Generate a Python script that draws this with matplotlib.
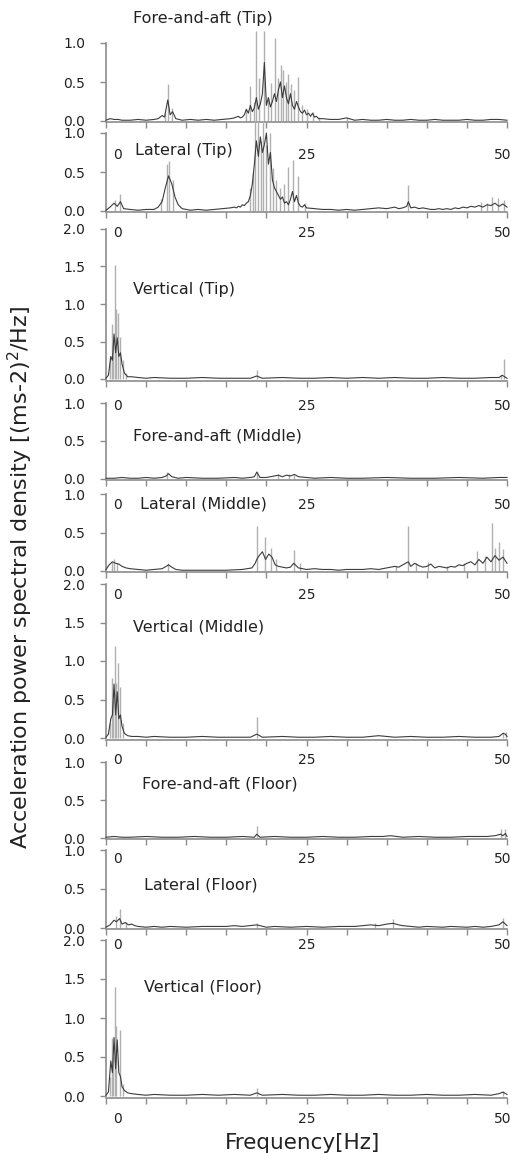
import matplotlib
matplotlib.use("Agg")
import matplotlib.pyplot as plt
from matplotlib.transforms import offset_copy

plt.rcParams['font.family'] = ['DejaVu Sans']

# panel names
titles = ["Fore-and-aft (Tip)", "Lateral (Tip)", "Vertical (Tip)",
          "Fore-and-aft (Middle)", "Lateral (Middle)", "Vertical (Middle)",
          "Fore-and-aft (Floor)", "Lateral (Floor)", "Vertical (Floor)"]
ymaxs = [1.0, 1.0, 2.0, 1.0, 1.0, 2.0, 1.0, 1.0, 2.0]

# --- dark trace (freq Hz, PSD) and light grey spikes ---
tip_fa = [(0, 0.01), (0.5, 0.03), (1, 0.02), (1.5, 0.02), (2, 0.01), (3, 0.01), (4, 0.02), (5, 0.01), (6, 0.02),
          (6.5, 0.03), (7, 0.07), (7.3, 0.05), (7.7, 0.27), (8.0, 0.08), (8.3, 0.12), (8.7, 0.03), (9.5, 0.01),
          (10.5, 0.02), (11.5, 0.01), (12.5, 0.02), (13.5, 0.01), (14.5, 0.02), (15.5, 0.03),
          (16.0, 0.04), (16.25, 0.05), (16.5, 0.06), (16.75, 0.04), (17.0, 0.05), (17.25, 0.08), (17.5, 0.15),
          (17.75, 0.1), (18.0, 0.2), (18.25, 0.12), (18.5, 0.17), (18.75, 0.3), (19.0, 0.15), (19.25, 0.22),
          (19.5, 0.35), (19.75, 0.75), (20.0, 0.2), (20.25, 0.3), (20.5, 0.18), (20.75, 0.25), (21.0, 0.35),
          (21.25, 0.25), (21.5, 0.4), (21.75, 0.5), (22.0, 0.3), (22.25, 0.45), (22.5, 0.3), (22.75, 0.22),
          (23.0, 0.35), (23.25, 0.2), (23.5, 0.15), (23.75, 0.25), (24.0, 0.18), (24.25, 0.12), (24.5, 0.1),
          (24.75, 0.14), (25.0, 0.08), (25.25, 0.1), (25.5, 0.06), (25.75, 0.1), (26.0, 0.05), (26.25, 0.06),
          (26.5, 0.03), (27, 0.03), (28, 0.02), (29, 0.02), (30, 0.04), (31, 0.01), (32, 0.02), (33, 0.01),
          (34, 0.01), (35, 0.02), (36, 0.01), (37, 0.01), (38, 0.02), (39, 0.01), (40, 0.01), (41, 0.02),
          (42, 0.01), (43, 0.01), (44, 0.01), (45, 0.02), (46, 0.01), (47, 0.01), (48, 0.02), (49, 0.02),
          (50, 0.01)]
tip_fa_spk = [(7.3, 0.1), (7.7, 0.47), (8.2, 0.17), (17.4, 0.15), (17.9, 0.45), (18.4, 0.25), (18.7, 1.15),
              (19.1, 0.55), (19.7, 1.15), (20.2, 0.3), (20.6, 0.49), (21.1, 1.06), (21.5, 0.55), (21.8, 0.72),
              (22.1, 0.65), (22.4, 0.5), (22.7, 0.6), (23.1, 0.47), (23.5, 0.4), (23.9, 0.56), (24.4, 0.2),
              (25.0, 0.15), (25.8, 0.12), (26.6, 0.05), (30.0, 0.04)]

tip_lat = [(0, 0.01), (0.5, 0.05), (1.0, 0.1), (1.4, 0.06), (1.8, 0.12), (2.2, 0.03), (3, 0.02), (4, 0.01),
           (5, 0.02), (6, 0.02), (6.5, 0.05), (7.0, 0.12), (7.4, 0.3), (7.8, 0.45), (8.2, 0.35), (8.6, 0.18),
           (9.0, 0.08), (9.5, 0.03), (10.5, 0.01), (11.5, 0.02), (12.5, 0.01), (13.5, 0.02), (14.5, 0.03),
           (15.5, 0.04), (16.0, 0.05), (16.25, 0.04), (16.5, 0.06), (16.75, 0.05), (17.0, 0.08), (17.25, 0.07),
           (17.5, 0.1), (17.75, 0.12), (18.0, 0.2), (18.25, 0.35), (18.5, 0.6), (18.75, 0.9), (19.0, 0.7),
           (19.25, 0.95), (19.5, 0.75), (19.75, 0.85), (20.0, 1.0), (20.25, 0.6), (20.5, 0.75), (20.75, 0.4),
           (21.0, 0.3), (21.25, 0.25), (21.5, 0.2), (21.75, 0.15), (22.0, 0.18), (22.25, 0.1), (22.5, 0.12),
           (22.75, 0.08), (23.0, 0.15), (23.25, 0.25), (23.5, 0.12), (23.75, 0.2), (24.0, 0.1), (24.25, 0.06),
           (24.5, 0.05), (24.75, 0.08), (25.0, 0.04), (26, 0.03), (27, 0.02), (28, 0.02), (29, 0.01), (30, 0.02),
           (31, 0.01), (32, 0.02), (33, 0.03), (34, 0.04), (35, 0.03), (35.5, 0.04), (36, 0.05), (36.5, 0.03),
           (37, 0.04), (37.5, 0.06), (37.7, 0.12), (38, 0.04), (38.5, 0.05), (39, 0.03), (39.5, 0.04), (40, 0.03),
           (40.5, 0.02), (41, 0.02), (41.5, 0.03), (42, 0.02), (42.5, 0.03), (43, 0.02), (43.5, 0.04), (44, 0.03),
           (44.5, 0.05), (45, 0.04), (45.5, 0.06), (46, 0.05), (46.5, 0.07), (47, 0.05), (47.5, 0.08), (48, 0.07),
           (48.5, 0.1), (49, 0.06), (49.5, 0.09), (50, 0.05)]
tip_lat_spk = [(1.1, 0.14), (1.8, 0.22), (6.9, 0.15), (7.6, 0.6), (7.9, 0.64), (8.3, 0.4), (17.9, 0.3),
               (18.3, 0.49), (18.6, 1.15), (18.9, 1.15), (19.3, 0.9), (19.6, 1.15), (20.0, 0.85), (20.4, 1.0),
               (20.8, 0.55), (21.2, 0.4), (21.7, 0.3), (22.2, 0.35), (22.7, 0.57), (23.3, 0.65), (24.0, 0.45),
               (24.8, 0.1), (37.7, 0.33), (46.8, 0.12), (47.5, 0.1), (48.1, 0.18), (48.9, 0.17), (49.6, 0.14)]

tip_ver = [(0, 0.01), (0.3, 0.05), (0.6, 0.3), (0.8, 0.25), (1.0, 0.6), (1.2, 0.35), (1.4, 0.55), (1.6, 0.3),
           (1.8, 0.35), (2.0, 0.2), (2.3, 0.08), (2.7, 0.03), (3.2, 0.03), (4, 0.02), (5, 0.01), (6, 0.02),
           (8, 0.01), (10, 0.01), (12, 0.02), (14, 0.01), (16, 0.01), (18, 0.01), (18.8, 0.04), (19.5, 0.01),
           (22, 0.02), (24, 0.01), (26, 0.01), (28, 0.02), (30, 0.01), (32, 0.02), (34, 0.01), (36, 0.02),
           (38, 0.01), (40, 0.01), (42, 0.02), (44, 0.01), (46, 0.01), (48, 0.02), (49, 0.02), (49.4, 0.05),
           (49.7, 0.03), (50, 0.01)]
tip_ver_spk = [(0.5, 0.3), (0.7, 0.73), (0.9, 0.5), (1.1, 1.52), (1.3, 0.93), (1.5, 0.88), (1.8, 0.56),
               (2.1, 0.25), (2.5, 0.08), (18.8, 0.12), (49.3, 0.06), (49.6, 0.27)]

mid_fa = [(0, 0.01), (1, 0.01), (2, 0.02), (3, 0.01), (4, 0.01), (5, 0.02), (6, 0.01), (7, 0.02), (7.5, 0.04),
          (7.8, 0.07), (8.2, 0.03), (9, 0.01), (10, 0.02), (12, 0.01), (14, 0.01), (16, 0.02), (17, 0.01),
          (18, 0.02), (18.5, 0.03), (18.8, 0.09), (19.2, 0.02), (20, 0.02), (20.5, 0.03), (21, 0.04), (21.5, 0.05),
          (22, 0.03), (22.5, 0.05), (23, 0.04), (23.5, 0.06), (24, 0.03), (25, 0.02), (26, 0.01), (28, 0.02),
          (30, 0.01), (32, 0.01), (35, 0.02), (38, 0.01), (41, 0.01), (44, 0.02), (47, 0.01), (49, 0.02), (50, 0.02)]
mid_fa_spk = [(7.6, 0.09), (18.8, 0.1), (21.5, 0.06), (22.8, 0.06), (23.4, 0.05)]

mid_lat = [(0, 0.02), (0.4, 0.08), (0.8, 0.12), (1.2, 0.1), (1.6, 0.09), (2.0, 0.06), (2.5, 0.04), (3, 0.03),
           (4, 0.02), (5, 0.01), (6, 0.02), (7, 0.03), (7.5, 0.06), (7.8, 0.08), (8.2, 0.05), (8.7, 0.02),
           (9.5, 0.01), (11, 0.01), (13, 0.01), (15, 0.01), (17, 0.02), (18.2, 0.04), (18.6, 0.1), (18.8, 0.15),
           (19.1, 0.2), (19.5, 0.25), (19.9, 0.15), (20.3, 0.22), (20.7, 0.18), (21.1, 0.08), (21.5, 0.06),
           (22, 0.05), (22.5, 0.04), (23, 0.05), (23.4, 0.1), (24, 0.04), (24.5, 0.03), (25, 0.02), (26, 0.03),
           (27, 0.02), (28, 0.02), (29, 0.01), (30, 0.02), (31, 0.02), (32, 0.02), (33, 0.03), (34, 0.02),
           (35, 0.04), (35.5, 0.05), (36, 0.06), (36.5, 0.05), (37, 0.08), (37.7, 0.12), (38, 0.06), (38.5, 0.1),
           (39, 0.07), (39.5, 0.05), (40, 0.06), (40.5, 0.09), (41, 0.04), (41.5, 0.06), (42, 0.05), (42.5, 0.04),
           (43, 0.06), (43.5, 0.05), (44, 0.08), (44.5, 0.07), (45, 0.1), (45.5, 0.12), (46, 0.08), (46.5, 0.15),
           (47, 0.1), (47.5, 0.18), (48, 0.12), (48.5, 0.2), (49, 0.14), (49.5, 0.18), (50, 0.1)]
mid_lat_spk = [(0.7, 0.12), (1.0, 0.15), (1.4, 0.1), (7.7, 0.1), (18.8, 0.58), (19.8, 0.44), (20.6, 0.3),
               (21.2, 0.15), (23.4, 0.27), (24.2, 0.1), (36.2, 0.07), (37.7, 0.58), (38.7, 0.1), (40.1, 0.12),
               (42.5, 0.06), (44.6, 0.1), (46.3, 0.26), (47.3, 0.2), (48.1, 0.62), (48.5, 0.3), (49.0, 0.38),
               (49.5, 0.28)]

mid_ver = [(0, 0.01), (0.3, 0.05), (0.6, 0.25), (0.8, 0.3), (1.0, 0.7), (1.2, 0.3), (1.4, 0.6), (1.6, 0.25),
           (1.8, 0.3), (2.0, 0.15), (2.3, 0.06), (2.7, 0.03), (3.2, 0.02), (4, 0.02), (5, 0.01), (6, 0.02),
           (8, 0.01), (10, 0.01), (12, 0.02), (14, 0.01), (16, 0.01), (18, 0.01), (18.8, 0.05), (19.5, 0.01),
           (22, 0.02), (24, 0.01), (26, 0.01), (28, 0.02), (30, 0.01), (32, 0.01), (33, 0.02), (34, 0.03),
           (35, 0.02), (36, 0.01), (38, 0.02), (40, 0.01), (42, 0.01), (44, 0.02), (46, 0.01), (48, 0.01),
           (49, 0.02), (49.5, 0.06), (49.8, 0.05), (50, 0.02)]
mid_ver_spk = [(0.5, 0.2), (0.7, 0.78), (0.9, 0.5), (1.1, 1.2), (1.3, 0.72), (1.45, 0.97), (1.8, 0.66),
               (2.1, 0.2), (18.8, 0.27), (49.5, 0.08), (49.9, 0.08)]

flo_fa = [(0, 0.01), (1, 0.02), (2, 0.01), (3, 0.01), (5, 0.02), (7, 0.01), (9, 0.01), (11, 0.02), (13, 0.01),
          (15, 0.01), (17, 0.02), (18.5, 0.01), (18.8, 0.05), (19.2, 0.01), (21, 0.02), (23, 0.01), (25, 0.01),
          (27, 0.02), (29, 0.01), (31, 0.01), (33, 0.02), (34.5, 0.02), (35.5, 0.03), (37, 0.01), (39, 0.02),
          (41, 0.01), (43, 0.01), (45, 0.02), (46.5, 0.02), (47.5, 0.02), (48.5, 0.03), (49.2, 0.05), (49.5, 0.03),
          (49.8, 0.06), (50, 0.02)]
flo_fa_spk = [(18.8, 0.16), (49.2, 0.12), (49.8, 0.12)]

flo_lat = [(0, 0.01), (0.5, 0.04), (1.0, 0.1), (1.3, 0.08), (1.7, 0.12), (2.0, 0.05), (2.4, 0.07), (2.8, 0.04),
           (3.2, 0.05), (3.6, 0.03), (4, 0.02), (5, 0.01), (6, 0.02), (7, 0.01), (8, 0.02), (10, 0.01),
           (12, 0.02), (13, 0.02), (15, 0.02), (16, 0.03), (17, 0.02), (18.8, 0.04), (20, 0.01), (21, 0.02),
           (23, 0.01), (25, 0.02), (27, 0.01), (29, 0.02), (30, 0.02), (31, 0.02), (32, 0.03), (33, 0.04),
           (34, 0.03), (35, 0.05), (35.8, 0.06), (36.5, 0.04), (37, 0.03), (38, 0.02), (39, 0.01), (40, 0.02),
           (42, 0.01), (43, 0.02), (45, 0.01), (46, 0.02), (47, 0.01), (48, 0.02), (49, 0.04), (49.5, 0.08),
           (50, 0.03)]
flo_lat_spk = [(1.2, 0.15), (1.7, 0.24), (2.5, 0.08), (18.8, 0.06), (33.5, 0.06), (35.8, 0.11), (49.5, 0.13)]

flo_ver = [(0, 0.01), (0.3, 0.05), (0.6, 0.45), (0.8, 0.3), (1.0, 0.75), (1.2, 0.35), (1.4, 0.72), (1.6, 0.3),
           (1.8, 0.25), (2.0, 0.12), (2.3, 0.07), (2.7, 0.04), (3.2, 0.03), (4, 0.02), (5, 0.01), (6, 0.02),
           (8, 0.01), (10, 0.01), (12, 0.02), (14, 0.01), (16, 0.02), (18, 0.01), (18.8, 0.04), (19.5, 0.01),
           (22, 0.02), (24, 0.01), (26, 0.01), (28, 0.02), (30, 0.01), (32, 0.01), (34, 0.02), (36, 0.01),
           (38, 0.01), (40, 0.02), (42, 0.01), (44, 0.01), (46, 0.02), (48, 0.01), (49, 0.03), (49.5, 0.05),
           (50, 0.02)]
flo_ver_spk = [(0.5, 0.25), (0.7, 0.75), (0.9, 0.5), (1.1, 1.4), (1.3, 0.9), (1.75, 0.84), (2.1, 0.15),
               (18.8, 0.1), (49.5, 0.07)]

traces = [tip_fa, tip_lat, tip_ver, mid_fa, mid_lat, mid_ver, flo_fa, flo_lat, flo_ver]
spikes = [tip_fa_spk, tip_lat_spk, tip_ver_spk, mid_fa_spk, mid_lat_spk, mid_ver_spk,
          flo_fa_spk, flo_lat_spk, flo_ver_spk]

# layout in pixels (zero line, top tick)
W, H = 511, 1153
zero_px = [121, 211, 379, 479, 571, 738, 838, 928, 1096]
top_px = [43, 133, 229, 403, 494, 584, 762, 850, 940]
lim_top = [1.15, 1.15, 2.0, 1.0, 1.0, 2.0, 1.0, 1.0, 2.0]
title_px = [(133, 19), (135, 151), (133, 289), (133, 436), (140, 504),
            (133, 627), (142, 784), (144, 885), (144, 987)]
lab_off = [33, 21, 25, 25, 23, 20, 20, 16, 21]
x0px, x1px = 106, 507

axc = "#8c8c8c"
txtc = "#222222"

fig = plt.figure(figsize=(W / 100, H / 100), dpi=100)

for i in range(9):
    ymax = ymaxs[i]
    ppu = (zero_px[i] - top_px[i]) / ymax
    lo = -0.012 * ymax
    b_px = zero_px[i] - lo * ppu
    t_px = zero_px[i] - lim_top[i] * ppu
    ax = fig.add_axes([x0px / W, 1 - b_px / H, (x1px - x0px) / W, (b_px - t_px) / H])
    ax.patch.set_alpha(0)
    ax.set_xlim(0, 50)
    ax.set_ylim(lo, lim_top[i])

    sf = [p[0] for p in spikes[i]]
    sv = [p[1] for p in spikes[i]]
    ax.vlines(sf, 0, sv, color="#b0b0b0", lw=1.0, clip_on=False, zorder=2)
    tf = [p[0] for p in traces[i]]
    tv = [p[1] for p in traces[i]]
    ax.plot(tf, tv, color="#3c3c3c", lw=0.8, clip_on=False, zorder=3)

    for s in ['top', 'right']:
        ax.spines[s].set_visible(False)
    ax.spines['left'].set_bounds(0, ymax)
    for s in ['left', 'bottom']:
        ax.spines[s].set_color(axc)
        ax.spines[s].set_linewidth(1.2)

    if ymax == 2.0:
        yt = [0, 0.5, 1.0, 1.5, 2.0]
    else:
        yt = [0, 0.5, 1.0]
    ax.set_yticks(yt)
    ax.set_yticklabels(["%.1f" % v for v in yt])
    ax.set_xticks(range(0, 51, 5))
    ax.set_xticklabels([])
    ax.tick_params(axis='both', direction='out', length=4, width=1.0, color=axc)
    ax.tick_params(axis='y', labelsize=10, labelcolor=txtc, pad=11)

    for xv, lab, dx in [(0, "0", 12), (25, "25", 0), (50, "50", -4)]:
        tr = offset_copy(ax.get_xaxis_transform(), fig=fig, x=dx, y=-lab_off[i], units='dots')
        ax.text(xv, 0, lab, transform=tr, ha='center', va='center', fontsize=10, color=txtc)

    tx, ty = title_px[i]
    fig.text(tx / W, 1 - ty / H, titles[i], ha='left', va='center', fontsize=11.5, color=txtc)

fig.text(20 / W, 1 - 577 / H, "Acceleration power spectral density [(ms-2)$^{2}$/Hz]",
         rotation=90, ha='center', va='center', fontsize=16, color=txtc)
fig.text(303 / W, 1 - 1143 / H, "Frequency[Hz]", ha='center', va='center', fontsize=15.5, color=txtc)

fig.savefig("out.png", dpi=100)
